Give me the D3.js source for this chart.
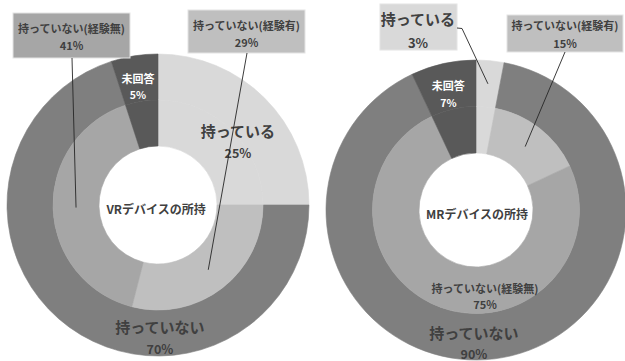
<!DOCTYPE html>
<html>
<head>
<meta charset="utf-8">
<script src="https://cdn.jsdelivr.net/npm/d3@7/dist/d3.min.js"></script>
<style>
  html, body { margin: 0; padding: 0; background: #fff; }
  svg { display: block; }
  text { font-family: "Noto Sans CJK JP", "Noto Sans", sans-serif; font-weight: bold; }
</style>
</head>
<body>
<svg id="chart" width="625" height="361"></svg>
<script>
// ---- data ----
const chartTitles = ["VRデバイスの所持", "MRデバイスの所持"];
const outerCategories = ["持っている", "持っていない", "未回答"];
const innerCategories = ["持っている", "持っていない(経験有)", "持っていない(経験無)", "未回答"];
const vrOuter = [25, 70, 5];
const vrInner = [25, 29, 41, 5];
const mrOuter = [3, 90, 7];
const mrInner = [3, 15, 75, 7];

// ---- styles ----
const colors = {
  "持っている": "#d9d9d9",
  "持っていない": "#7f7f7f",
  "未回答": "#595959",
  "持っていない(経験有)": "#bfbfbf",
  "持っていない(経験無)": "#a6a6a6"
};
const textDark = "#404040";

const svg = d3.select("#chart");
const pie = d3.pie().sort(null).value(d => d.v);

const layouts = [
  { cx: 158, cy: 205, R: 151, r0: 59,
    outer: vrOuter, inner: vrInner },
  { cx: 476, cy: 210, R: 150, r0: 57,
    outer: mrOuter, inner: mrInner }
];

function pct(v) { return v + "%"; }

layouts.forEach((L, i) => {
  const g = svg.append("g").attr("transform", `translate(${L.cx},${L.cy})`);
  const rMid = L.r0 + (L.R - L.r0) / 2;
  const outerArc = d3.arc().innerRadius(rMid).outerRadius(L.R);
  const innerArc = d3.arc().innerRadius(L.r0).outerRadius(rMid);
  const outerData = pie(outerCategories.map((c, k) => ({ c, v: L.outer[k] })));
  const innerData = pie(innerCategories.map((c, k) => ({ c, v: L.inner[k] })));

  g.selectAll("path.outer").data(outerData).join("path")
    .attr("class", "outer")
    .attr("d", outerArc)
    .attr("fill", d => colors[d.data.c])
    .attr("stroke", d => colors[d.data.c]).attr("stroke-width", 0.6);
  g.selectAll("path.inner").data(innerData).join("path")
    .attr("class", "inner")
    .attr("d", innerArc)
    .attr("fill", d => colors[d.data.c])
    .attr("stroke", d => colors[d.data.c]).attr("stroke-width", 0.6);

  L.outerData = outerData; L.innerData = innerData;
  L.outerArc = outerArc; L.innerArc = innerArc; L.g = g;

  // center title
  g.append("text").attr("x", i === 0 ? -2 : 1).attr("y", 3)
    .attr("text-anchor", "middle").attr("dominant-baseline", "central")
    .attr("font-size", 12).attr("fill", textDark).text(chartTitles[i]);

  // 未回答 label at outer centroid (white)
  const na = outerData[2];
  const [nx, ny] = outerArc.centroid(na);
  g.append("text").attr("x", nx).attr("y", ny - 1)
    .attr("text-anchor", "middle").attr("dominant-baseline", "central")
    .attr("font-size", 11).attr("fill", "#ffffff").text(na.data.c);
  g.append("text").attr("x", nx).attr("y", ny + 16)
    .attr("text-anchor", "middle").attr("dominant-baseline", "central")
    .attr("font-size", 10.5).attr("fill", "#ffffff").text(pct(na.data.v));
});

function twoLine(x, y1, y2, t1, t2, s1, s2, fill) {
  svg.append("text").attr("x", x).attr("y", y1)
    .attr("text-anchor", "middle").attr("dominant-baseline", "central")
    .attr("font-size", s1).attr("fill", fill || textDark).text(t1);
  svg.append("text").attr("x", x).attr("y", y2)
    .attr("text-anchor", "middle").attr("dominant-baseline", "central")
    .attr("font-size", s2).attr("fill", fill || textDark).text(t2);
}
function box(x, y, w, h, fill) {
  svg.append("rect").attr("x", x).attr("y", y).attr("width", w).attr("height", h)
    .attr("fill", fill).attr("stroke", "#e4e4e4").attr("stroke-width", 1);
}
function leader(points) {
  svg.append("path").attr("d", d3.line()(points))
    .attr("fill", "none").attr("stroke", "#262626").attr("stroke-width", 0.9);
}
function abs(L, p) { return [L.cx + p[0], L.cy + p[1]]; }

// ---- VR chart labels ----
{
  const L = layouts[0];
  // 持っている
  twoLine(238, 130, 152, outerCategories[0], pct(L.outer[0]), 15, 12.5);
  // 持っていない
  twoLine(160, 326, 348, outerCategories[1], pct(L.outer[1]), 15, 12.5);
  // 経験無 box
  const cNo = abs(L, L.innerArc.centroid(L.innerData[2]));
  box(13, 13, 117, 45, colors[innerCategories[2]]);
  twoLine(71.5, 28, 45, innerCategories[2], pct(L.inner[2]), 11, 11);
  leader([[72, 58], cNo]);
  // 経験有 box
  const cYes = abs(L, L.innerArc.centroid(L.innerData[1]));
  box(188, 10, 117, 43, colors[innerCategories[1]]);
  twoLine(246.5, 25, 42, innerCategories[1], pct(L.inner[1]), 11, 11);
  leader([[247, 53], cYes]);
}

// ---- MR chart labels ----
{
  const L = layouts[1];
  // 持っている box
  const cHave = abs(L, L.outerArc.centroid(L.outerData[0]));
  box(380, 4, 77, 46, colors[outerCategories[0]]);
  twoLine(418, 18, 42, outerCategories[0], pct(L.outer[0]), 15, 13);
  leader([[457, 28], [462, 28.5], cHave]);
  // 経験有 box
  const cYes = abs(L, L.innerArc.centroid(L.innerData[1]));
  box(507, 15, 116, 37, colors[innerCategories[1]]);
  twoLine(565, 25, 43, innerCategories[1], pct(L.inner[1]), 11, 11);
  leader([[565, 52], cYes]);
  // 経験無
  twoLine(485, 288, 304, innerCategories[2], pct(L.inner[2]), 11, 11);
  // 持っていない
  twoLine(474, 332, 353, outerCategories[1], pct(L.outer[1]), 15, 12.5);
}
</script>
</body>
</html>
